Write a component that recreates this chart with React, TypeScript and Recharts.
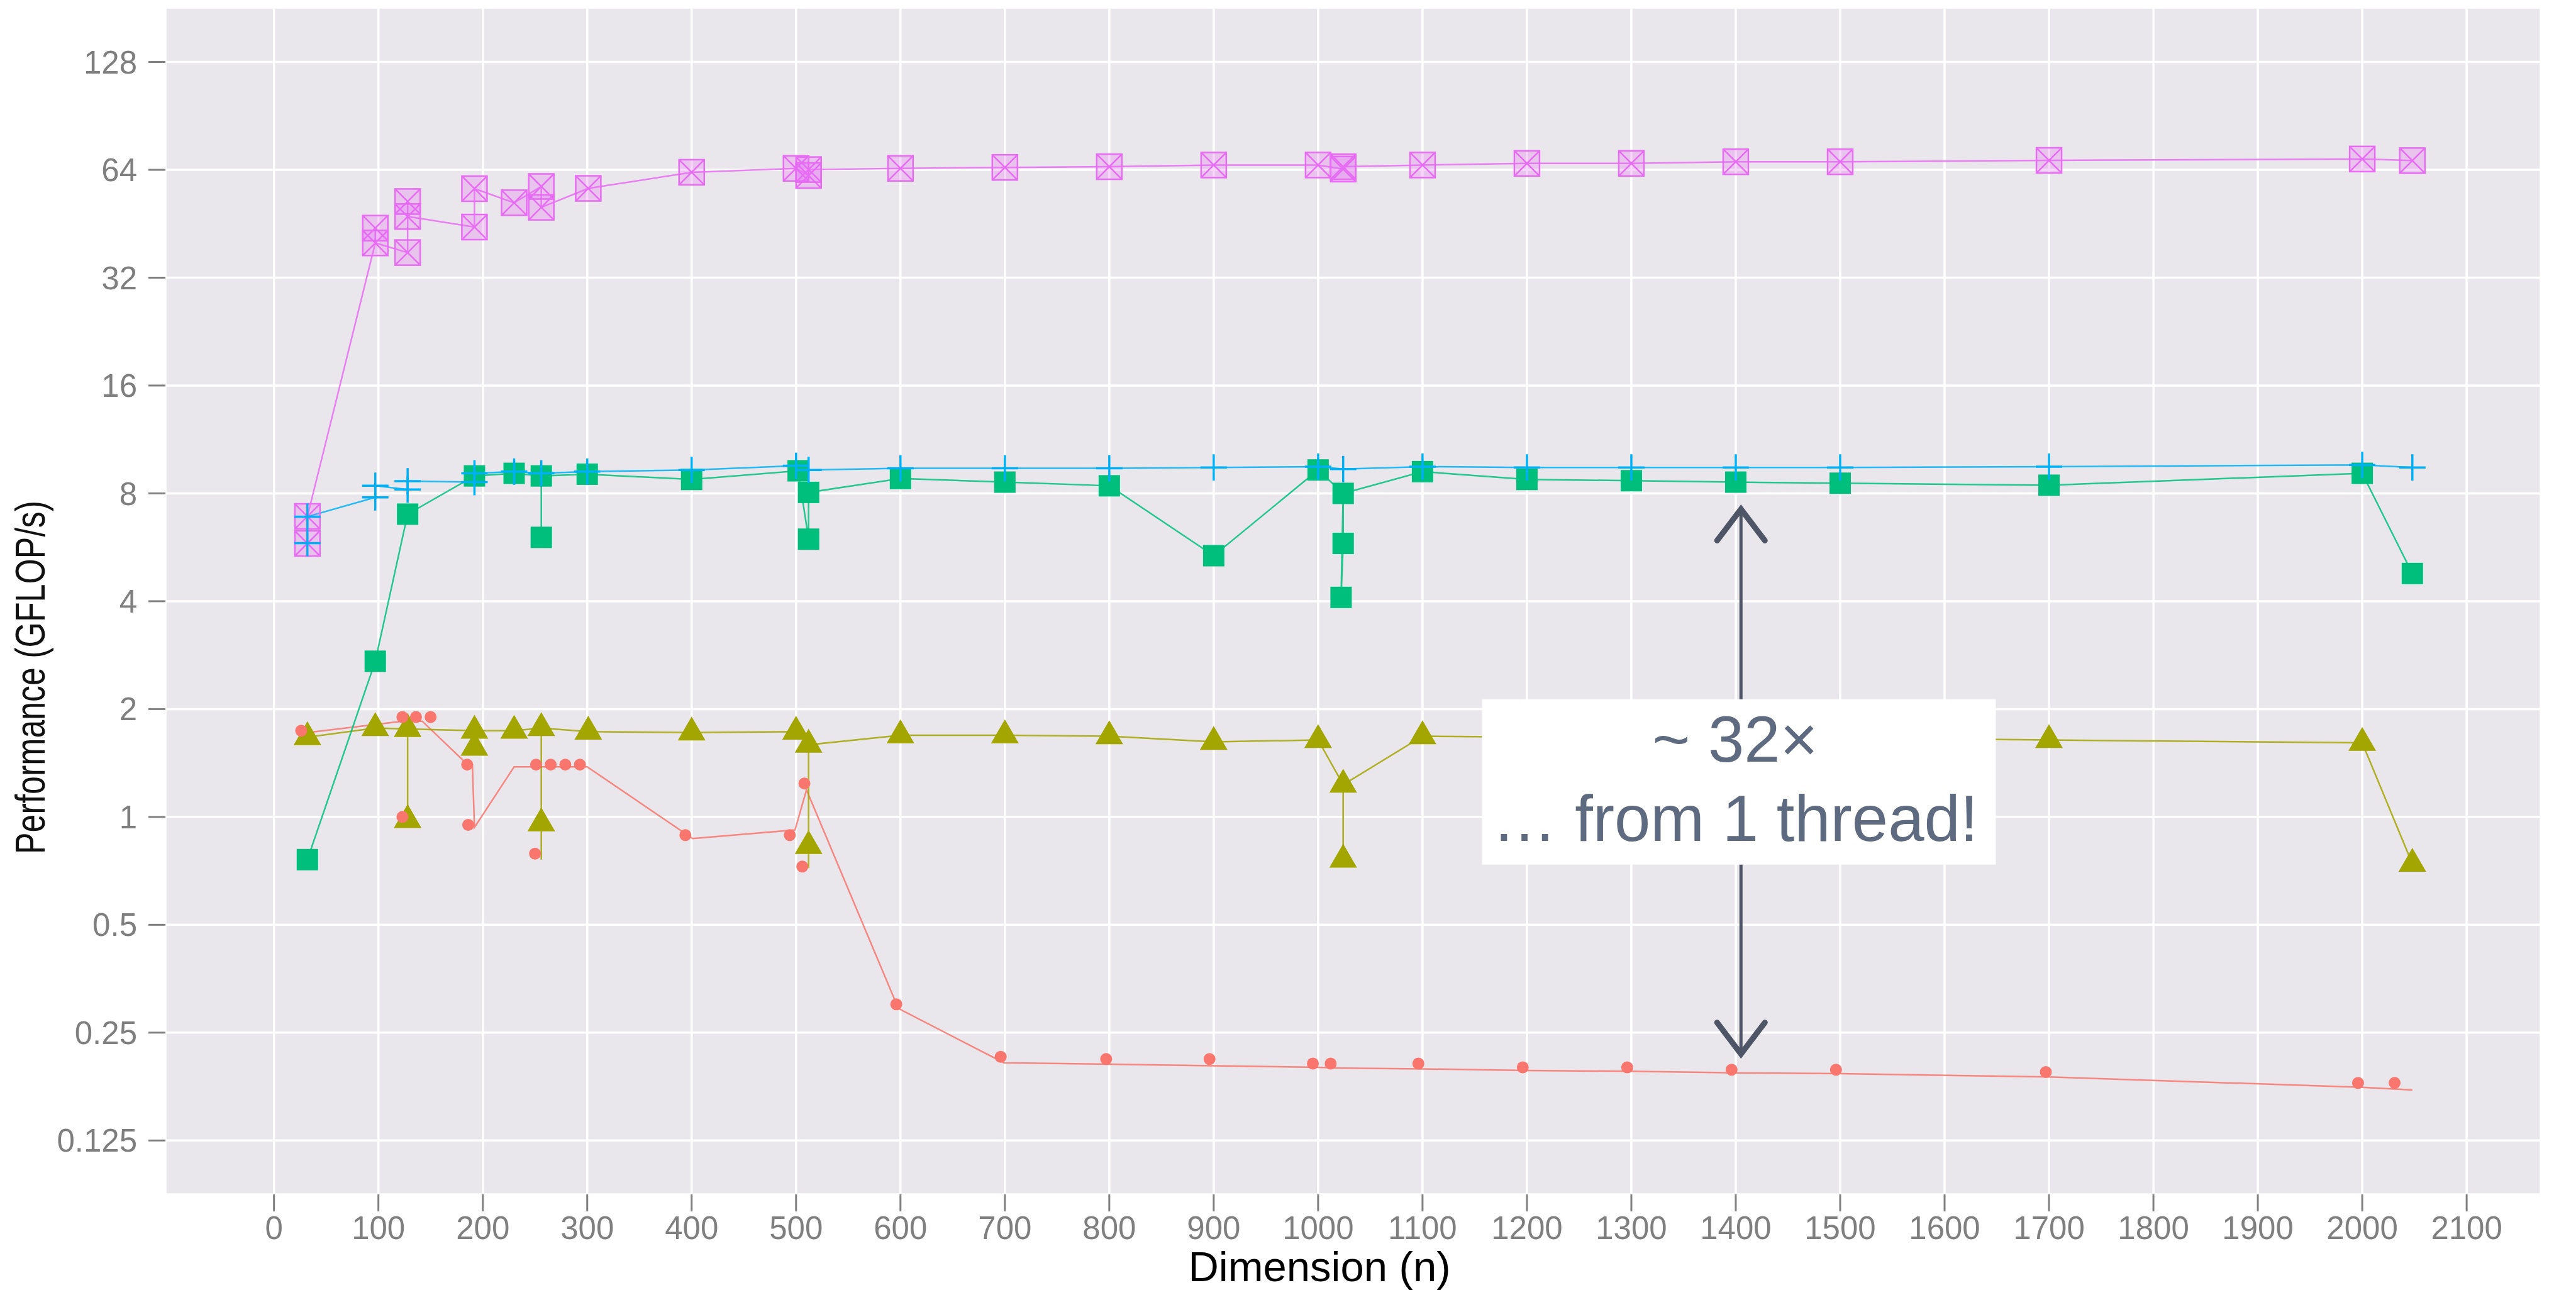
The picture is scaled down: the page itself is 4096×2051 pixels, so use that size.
import React from "react";
import {
  ComposedChart,
  Scatter,
  XAxis,
  YAxis,
  CartesianGrid,
  ReferenceArea,
  ReferenceLine,
  Label,
} from "recharts";

type Pt = { x: number; y: number };
const pts = (rows: number[][]): Pt[] => rows.map(([x, y]) => ({ x, y }));

// axis ticks
const xTicks = [0, 100, 200, 300, 400, 500, 600, 700, 800, 900, 1000, 1100, 1200, 1300, 1400, 1500, 1600, 1700, 1800, 1900, 2000, 2100];
const xMinor = [-50, 50, 150, 250, 350, 450, 550, 650, 750, 850, 950, 1050, 1150, 1250, 1350, 1450, 1550, 1650, 1750, 1850, 1950, 2050, 2150];
const yTicks = [0.125, 0.25, 0.5, 1, 2, 4, 8, 16, 32, 64, 128];
const yMinor = [0.09375, 0.1875, 0.375, 0.75, 1.5, 3, 6, 12, 24, 48, 96];

// red (circles) - points are jittered, line follows the measured values
const redDots = pts([
  [26, 1.74], [123, 1.9], [136, 1.9], [150, 1.9], [123, 1.0], [185, 1.4], [186, 0.95],
  [250, 0.79], [251, 1.4], [265, 1.4], [279, 1.4], [293, 1.4], [394, 0.89], [494, 0.89],
  [506, 0.727], [508, 1.24], [596, 0.3], [696, 0.214], [797, 0.211], [896, 0.211],
  [995, 0.205], [1012, 0.205], [1096, 0.205], [1196, 0.2], [1296, 0.2], [1396, 0.197],
  [1496, 0.197], [1697, 0.194], [1996, 0.181], [2031, 0.181],
]);
const redPath = pts([
  [32, 1.72], [123, 1.85], [142, 1.85], [181, 1.44], [190, 1.4], [192, 0.935], [230, 1.38],
  [300, 1.38], [401, 0.87], [499, 0.92], [510, 1.19], [598, 0.292], [699, 0.206], [800, 0.204],
  [900, 0.202], [1000, 0.2], [1024, 0.199], [1100, 0.198], [1200, 0.196], [1300, 0.195],
  [1400, 0.193], [1500, 0.192], [1700, 0.188], [2000, 0.176], [2048, 0.173],
]);

// olive (triangles)
const oliveDots = pts([
  [32, 1.67], [97, 1.77], [128, 1.76], [128, 0.98], [192, 1.74], [192, 1.56], [230, 1.74],
  [256, 1.77], [256, 0.96], [301, 1.73], [400, 1.72], [500, 1.73], [512, 1.59], [512, 0.83],
  [600, 1.69], [700, 1.69], [800, 1.68], [900, 1.62], [1000, 1.64], [1024, 1.23], [1024, 0.76],
  [1100, 1.68], [1200, 1.67], [1300, 1.66], [1400, 1.66], [1500, 1.66], [1700, 1.64],
  [2000, 1.61], [2048, 0.74],
]);
const olivePath = pts([
  [32, 1.67], [97, 1.77], [128, 1.76], [128, 0.98], [128, 1.76], [192, 1.74], [192, 1.56],
  [192, 1.74], [230, 1.74], [256, 1.77], [256, 0.76], [256, 1.77], [301, 1.73], [400, 1.72],
  [500, 1.73], [512, 1.59], [512, 0.72], [512, 1.59], [600, 1.69], [700, 1.69], [800, 1.68],
  [900, 1.62], [1000, 1.64], [1024, 1.23], [1024, 0.76], [1024, 1.23], [1100, 1.68],
  [1200, 1.67], [1300, 1.66], [1400, 1.66], [1500, 1.66], [1700, 1.64], [2000, 1.61], [2048, 0.74],
]);

// green (squares)
const greenDots = pts([
  [32, 0.76], [97, 2.72], [128, 7.0], [192, 8.95], [230, 9.1], [256, 8.95], [256, 6.03],
  [300, 9.05], [400, 8.75], [502, 9.25], [512, 8.05], [512, 5.96], [600, 8.8], [700, 8.6],
  [800, 8.4], [900, 5.36], [1000, 9.3], [1022, 4.1], [1024, 5.8], [1024, 8.0], [1100, 9.2],
  [1200, 8.75], [1300, 8.68], [1400, 8.6], [1500, 8.54], [1700, 8.43], [2000, 9.1], [2048, 4.78],
]);
const greenPath = pts([
  [32, 0.76], [97, 2.72], [128, 7.0], [192, 8.95], [230, 9.1], [256, 8.95], [256, 6.03],
  [256, 8.95], [300, 9.05], [400, 8.75], [502, 9.25], [512, 5.96], [512, 8.05], [600, 8.8],
  [700, 8.6], [800, 8.4], [900, 5.36], [1000, 9.3], [1024, 8.0], [1024, 5.8], [1022, 4.1],
  [1024, 8.0], [1100, 9.2], [1200, 8.75], [1300, 8.68], [1400, 8.6], [1500, 8.54], [1700, 8.43],
  [2000, 9.1], [2048, 4.78],
]);

// blue (plus)
const bluePath = pts([
  [32, 5.81], [32, 6.89], [97, 7.8], [97, 8.4], [128, 8.2], [128, 8.65], [192, 8.6], [192, 9.1],
  [230, 9.2], [256, 9.1], [300, 9.2], [400, 9.3], [500, 9.55], [512, 9.3], [600, 9.4],
  [700, 9.4], [800, 9.4], [900, 9.45], [1000, 9.5], [1024, 9.35], [1100, 9.5], [1200, 9.45],
  [1300, 9.45], [1400, 9.45], [1500, 9.45], [1700, 9.5], [2000, 9.6], [2048, 9.45],
]);

// magenta (boxed x)
const magentaDots = pts([
  [32, 5.8], [32, 6.9], [97, 40], [97, 44], [128, 37.6], [128, 52.2], [128, 47.4], [192, 44.3],
  [192, 56.7], [230, 51.8], [256, 57.5], [256, 50.3], [301, 56.8], [400, 63], [500, 64.6],
  [512, 61.7], [512, 64.1], [600, 64.6], [700, 65], [800, 65.3], [900, 66], [1000, 66],
  [1024, 64.3], [1024, 65.3], [1100, 66], [1200, 66.7], [1300, 66.7], [1400, 67.4],
  [1500, 67.4], [1700, 68], [2000, 68.6], [2048, 67.9],
]);
const magentaPath = pts([
  [32, 5.8], [32, 6.9], [97, 40], [97, 44], [97, 40], [128, 37.6], [128, 52.2], [128, 47.4],
  [192, 44.3], [192, 56.7], [230, 51.8], [256, 57.5], [256, 50.3], [301, 56.8], [400, 63],
  [500, 64.6], [512, 61.7], [512, 64.1], [600, 64.6], [700, 65], [800, 65.3], [900, 66],
  [1000, 66], [1024, 64.3], [1024, 65.3], [1100, 66], [1200, 66.7], [1300, 66.7], [1400, 67.4],
  [1500, 67.4], [1700, 68], [2000, 68.6], [2048, 67.9],
]);

// annotation (data coordinates)
const noteBox = { x1: 1157, x2: 1649, y1: 0.736, y2: 2.13 };
const noteArrow = { x: 1405, top: 7.23, bottom: 0.218 };

const RED = "#F8766D";
const OLIVE = "#A3A500";
const GREEN = "#00BF7D";
const BLUE = "#00B0F6";
const MAGENTA = "#E76BF3";
const PANEL = "#E9E7EB";
const NOTE = "#5E6A7F";
const ARROW = "#4D5566";
const FONT = "'Liberation Sans', Arial, sans-serif";

const noShape = () => <g />;
const circleShape = (p: any) => <circle cx={p.cx} cy={p.cy} r={9.5} fill={RED} />;
const triangleShape = (p: any) => {
  const w = 44;
  const h = 38;
  return (
    <polygon
      points={`${p.cx},${p.cy - (2 * h) / 3} ${p.cx + w / 2},${p.cy + h / 3} ${p.cx - w / 2},${p.cy + h / 3}`}
      fill={OLIVE}
    />
  );
};
const squareShape = (p: any) => <rect x={p.cx - 17} y={p.cy - 17} width={34} height={34} fill={GREEN} />;
const plusShape = (p: any) => (
  <g stroke={BLUE} strokeWidth={3.5}>
    <line x1={p.cx - 21} y1={p.cy} x2={p.cx + 21} y2={p.cy} />
    <line x1={p.cx} y1={p.cy - 21} x2={p.cx} y2={p.cy + 21} />
  </g>
);
const boxXShape = (p: any) => {
  const s = 20;
  return (
    <g stroke={MAGENTA} strokeWidth={2.5}>
      <rect x={p.cx - s} y={p.cy - s} width={2 * s} height={2 * s} fill={MAGENTA} fillOpacity={0.28} />
      <line x1={p.cx - s} y1={p.cy - s} x2={p.cx + s} y2={p.cy + s} />
      <line x1={p.cx - s} y1={p.cy + s} x2={p.cx + s} y2={p.cy - s} />
    </g>
  );
};

const arrowShape = (p: any) => {
  const { x1, y1, x2, y2 } = p;
  return (
    <g stroke={ARROW} fill="none" strokeLinecap="round">
      <line x1={x1} y1={y1} x2={x2} y2={y2} strokeWidth={5} />
      <polyline points={`${x1 - 38},${y1 + 50} ${x1},${y1} ${x1 + 38},${y1 + 50}`} strokeWidth={9} />
      <polyline points={`${x2 - 38},${y2 - 50} ${x2},${y2} ${x2 + 38},${y2 - 50}`} strokeWidth={9} />
    </g>
  );
};

const boxShape = (p: any) => {
  const cx = p.x + p.width / 2 - 6;
  return (
    <g>
      <rect x={p.x} y={p.y} width={p.width} height={p.height} fill="#FFFFFF" />
      <text x={cx} y={p.y + 99} textAnchor="middle" fontSize={103} fill={NOTE} fontFamily={FONT}>
        ~ 32×
      </text>
      <text x={cx} y={p.y + 225} textAnchor="middle" fontSize={103} fill={NOTE} fontFamily={FONT}>
        … from 1 thread!
      </text>
    </g>
  );
};

const minorH = (props: any) => {
  const scale = props?.yAxis?.scale;
  return typeof scale === "function" ? yMinor.map((v) => scale(v)) : [];
};
const minorV = (props: any) => {
  const scale = props?.xAxis?.scale;
  return typeof scale === "function" ? xMinor.map((v) => scale(v)) : [];
};

const lineStyle = (color: string) => ({ stroke: color, strokeWidth: 2.5, strokeOpacity: 0.85 });

export default function App() {
  return (
    <div style={{ position: "absolute", left: 0, top: 0, width: 4096, height: 2051, background: "#fff" }}>
      <ComposedChart width={4096} height={2051} margin={{ top: 12, right: 56, bottom: 0, left: 0 }}>
        <CartesianGrid
          fill={PANEL}
          stroke="#F6F5F7"
          strokeWidth={1.6}
          horizontalCoordinatesGenerator={minorH}
          verticalCoordinatesGenerator={minorV}
        />
        <CartesianGrid stroke="#FFFFFF" strokeWidth={3.5} />
        <XAxis
          type="number"
          dataKey="x"
          domain={[-104, 2171]}
          allowDataOverflow
          ticks={xTicks}
          interval={0}
          height={152}
          tickSize={27}
          tickMargin={8}
          axisLine={false}
          tickLine={{ stroke: "#808080", strokeWidth: 3 }}
          tick={{ fill: "#7F7F7F", fontSize: 51, fontFamily: FONT }}
          label={
            <Label
              content={() => (
                <text x={2098} y={2037} textAnchor="middle" fontSize={67} fill="#000" fontFamily={FONT}>
                  Dimension (n)
                </text>
              )}
            />
          }
        />
        <YAxis
          type="number"
          dataKey="y"
          scale="log"
          domain={[0.0884, 181.6]}
          allowDataOverflow
          ticks={yTicks}
          interval={0}
          width={263}
          tickSize={27}
          tickMargin={18}
          axisLine={false}
          tickLine={{ stroke: "#808080", strokeWidth: 3 }}
          tick={{ fill: "#7F7F7F", fontSize: 51, fontFamily: FONT }}
          label={
            <Label
              content={() => (
                <text
                  x={71}
                  y={1077}
                  transform="rotate(-90, 71, 1077)"
                  textAnchor="middle"
                  fontSize={67}
                  textLength={562}
                  lengthAdjust="spacingAndGlyphs"
                  fill="#111"
                  fontFamily={FONT}
                >
                  Performance (GFLOP/s)
                </text>
              )}
            />
          }
        />

        <Scatter data={redPath} dataKey="y" shape={noShape} line={lineStyle(RED)} isAnimationActive={false} />
        <Scatter data={olivePath} dataKey="y" shape={noShape} line={lineStyle(OLIVE)} isAnimationActive={false} />
        <Scatter data={greenPath} dataKey="y" shape={noShape} line={lineStyle(GREEN)} isAnimationActive={false} />
        <Scatter data={bluePath} dataKey="y" shape={noShape} line={lineStyle(BLUE)} isAnimationActive={false} />
        <Scatter data={magentaPath} dataKey="y" shape={noShape} line={lineStyle(MAGENTA)} isAnimationActive={false} />

        <Scatter data={oliveDots} dataKey="y" shape={triangleShape} isAnimationActive={false} />
        <Scatter data={greenDots} dataKey="y" shape={squareShape} isAnimationActive={false} />
        <Scatter data={magentaDots} dataKey="y" shape={boxXShape} isAnimationActive={false} />
        <Scatter data={bluePath} dataKey="y" shape={plusShape} isAnimationActive={false} />
        <Scatter data={redDots} dataKey="y" shape={circleShape} isAnimationActive={false} />

        <ReferenceLine
          segment={[
            { x: noteArrow.x, y: noteArrow.top },
            { x: noteArrow.x, y: noteArrow.bottom },
          ]}
          shape={arrowShape}
          zIndex={2400}
        />
        <ReferenceArea
          x1={noteBox.x1}
          x2={noteBox.x2}
          y1={noteBox.y1}
          y2={noteBox.y2}
          shape={boxShape}
          zIndex={2500}
        />
      </ComposedChart>
    </div>
  );
}
